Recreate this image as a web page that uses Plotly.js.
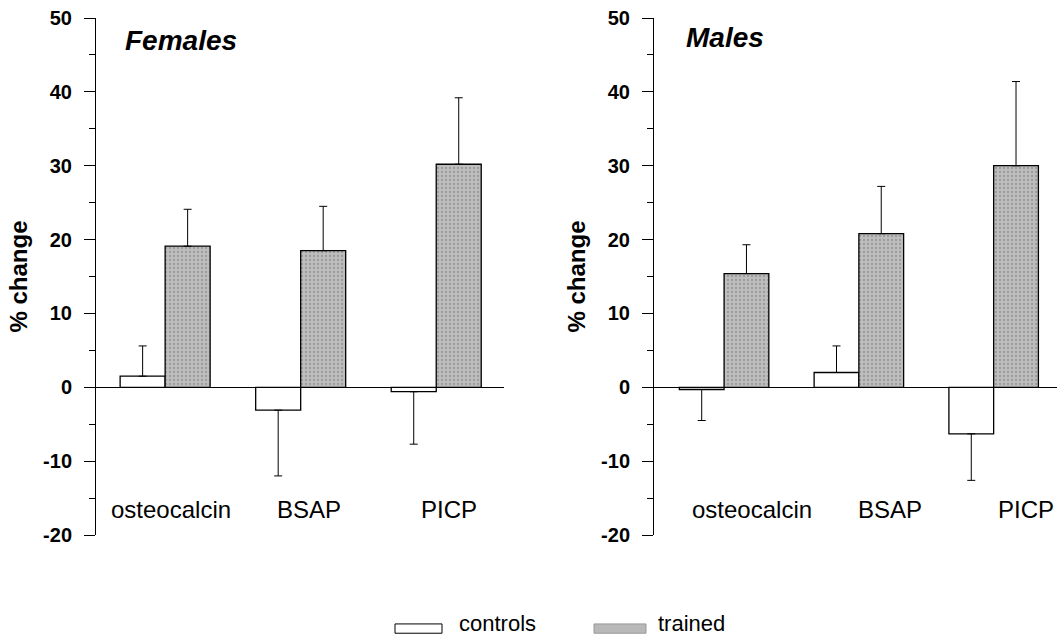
<!DOCTYPE html>
<html>
<head>
<meta charset="utf-8">
<script src="https://cdn.plot.ly/plotly-3.0.1.min.js"></script>
<style>html,body{margin:0;padding:0;background:#fff;}#chart{width:1057px;height:639px;}</style>
</head>
<body>
<div id="chart"></div>
<script>
// ---- data ----
const categories = ['osteocalcin', 'BSAP', 'PICP'];
const seriesNames = ['controls', 'trained'];
const panelTitles = ['Females', 'Males'];
const yTickVals = [-20, -10, 0, 10, 20, 30, 40, 50];
const yTickText = ['-20', '-10', '0', '10', '20', '30', '40', '50'];

const femaleControls = [1.5, -3.1, -0.6];
const femaleControlsErr = [4.1, 8.9, 7.1];
const femaleTrained = [19.1, 18.5, 30.2];
const femaleTrainedErr = [5.0, 6.0, 9.0];

const maleControls = [-0.3, 2.0, -6.3];
const maleControlsErr = [4.2, 3.6, 6.3];
const maleTrained = [15.4, 20.8, 30.0];
const maleTrainedErr = [3.9, 6.4, 11.4];

// ---- style ----
const FONT = 'Liberation Sans, Arial, Helvetica, sans-serif';
const controlStyle = {color: '#ffffff', line: {color: '#000', width: 1.3}};
const trainedStyle = {
  color: '#b6b6b6',
  line: {color: '#000', width: 1.3},
  pattern: {shape: '.', bgcolor: '#bebebe', fgcolor: '#9a9a9a', size: 4, solidity: 0.25, fillmode: 'replace'}
};

function oneSidedErr(vals, errs) {
  return {
    type: 'data', symmetric: false,
    array: vals.map((v, i) => v >= 0 ? errs[i] : 0),
    arrayminus: vals.map((v, i) => v < 0 ? errs[i] : 0),
    color: '#000', thickness: 1, width: 4
  };
}

function barTrace(vals, errs, name, style, xa, ya) {
  return {
    type: 'bar', x: categories, y: vals, name: name,
    marker: style, error_y: oneSidedErr(vals, errs),
    xaxis: xa, yaxis: ya, showlegend: false, hoverinfo: 'x+y'
  };
}

const data = [
  barTrace(femaleControls, femaleControlsErr, seriesNames[0], controlStyle, 'x', 'y'),
  barTrace(femaleTrained, femaleTrainedErr, seriesNames[1], trainedStyle, 'x', 'y'),
  barTrace(maleControls, maleControlsErr, seriesNames[0], controlStyle, 'x2', 'y2'),
  barTrace(maleTrained, maleTrainedErr, seriesNames[1], trainedStyle, 'x2', 'y2')
];

function yAxis(anchor) {
  return {
    anchor: anchor, range: [-20, 50], tickmode: 'array', tickvals: yTickVals, ticktext: yTickText,
    ticks: 'outside', ticklen: 11, tickwidth: 1, tickcolor: '#000',
    minor: {dtick: 5, ticks: 'outside', ticklen: 6, tickwidth: 1, tickcolor: '#000'},
    showline: true, linecolor: '#000', linewidth: 1,
    showgrid: false, zeroline: true, zerolinecolor: '#000', zerolinewidth: 1,
    ticklabelstandoff: 8,
    tickfont: {family: FONT, size: 20, color: '#000', weight: 'bold'},
    title: {text: '% change', standoff: 8, font: {family: FONT, size: 24, color: '#000', weight: 'bold'}},
    fixedrange: true
  };
}
function xAxis(anchor, domain, range) {
  return {
    anchor: anchor, domain: domain, type: 'category', range: range,
    showline: false, showticklabels: false, ticks: '', showgrid: false, zeroline: false,
    fixedrange: true
  };
}

const annotations = [];
const femaleShift = [6, 8, 13];
const maleShift = [28, 31, 32];
categories.forEach((c, i) => {
  annotations.push({xref: 'x', yref: 'y', x: c, y: -16.6, text: c, showarrow: false,
    xshift: femaleShift[i], font: {family: FONT, size: 24, color: '#000'}});
  annotations.push({xref: 'x2', yref: 'y2', x: c, y: -16.6, text: c, showarrow: false,
    xshift: maleShift[i], font: {family: FONT, size: 24, color: '#000'}});
});
annotations.push({xref: 'x', yref: 'y', x: -0.31, y: 47.0, xanchor: 'left', text: '<i>' + panelTitles[0] + '</i>',
  showarrow: false, font: {family: FONT, size: 28, color: '#000', weight: 'bold'}});
annotations.push({xref: 'x2', yref: 'y2', x: -0.30, y: 47.4, xanchor: 'left', text: '<i>' + panelTitles[1] + '</i>',
  showarrow: false, font: {family: FONT, size: 28, color: '#000', weight: 'bold'}});

// custom legend (wide swatches as in the original)
const legY0 = -0.172, legY1 = -0.19;
const shapes = [
  {type: 'rect', xref: 'paper', yref: 'paper', x0: 395/1057, x1: 442/1057, y0: legY0, y1: legY1,
   fillcolor: '#fff', line: {color: '#000', width: 1}},
  {type: 'rect', xref: 'paper', yref: 'paper', x0: 594/1057, x1: 646/1057, y0: legY0, y1: legY1,
   fillcolor: '#b8b8b8', line: {color: '#999', width: 1}}
];
annotations.push({xref: 'paper', yref: 'paper', x: 457/1057, y: -0.2, xanchor: 'left', yanchor: 'bottom',
  text: seriesNames[0], showarrow: false, font: {family: FONT, size: 22, color: '#000'}});
annotations.push({xref: 'paper', yref: 'paper', x: 656/1057, y: -0.2, xanchor: 'left', yanchor: 'bottom',
  text: seriesNames[1], showarrow: false, font: {family: FONT, size: 22, color: '#000'}});

const layout = {
  width: 1057, height: 639,
  margin: {l: 0, r: 0, t: 18, b: 104},
  paper_bgcolor: '#fff', plot_bgcolor: 'rgba(0,0,0,0)',
  barmode: 'group', bargap: 0.336, bargroupgap: 0,
  showlegend: false,
  xaxis: xAxis('y', [96/1057, 504/1057], [-0.51, 2.5]),
  yaxis: yAxis('x'),
  xaxis2: xAxis('y2', [654/1057, 1], [-0.52, 2.47]),
  yaxis2: yAxis('x2'),
  annotations: annotations,
  shapes: shapes,
  font: {family: FONT, color: '#000'}
};

Plotly.newPlot('chart', data, layout, {displayModeBar: false, staticPlot: true});
</script>
</body>
</html>
